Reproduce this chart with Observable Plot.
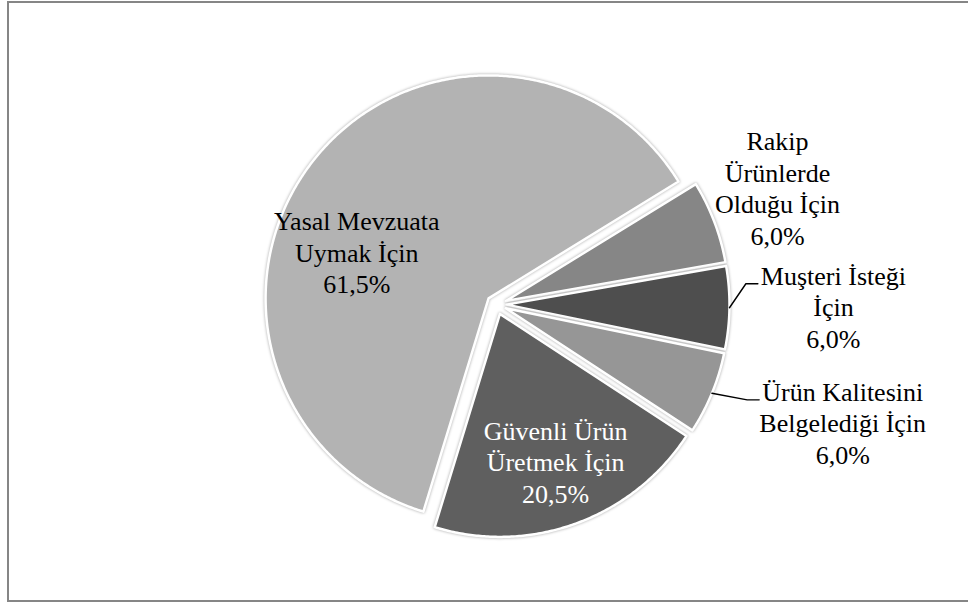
<!DOCTYPE html>
<html><head><meta charset="utf-8">
<script src="https://cdn.jsdelivr.net/npm/d3@7"></script>
<script src="https://cdn.jsdelivr.net/npm/@observablehq/plot@0.6"></script>
<style>
body{margin:0;background:#fff;}
#wrap{position:relative;width:968px;height:605px;overflow:hidden;background:#fff;}
#frame{position:absolute;left:7px;top:1px;width:1000px;height:597px;border:2px solid #868686;pointer-events:none;}
#wrap svg g.slices path{filter:drop-shadow(0 0 1.5px rgba(0,0,0,0.35));}
</style>
</head><body><div id="wrap"><div id="frame"></div></div>
<script>
// ---- data ----
const categories = ["Rakip Ürünlerde Olduğu İçin", "Muşteri İsteği İçin", "Ürün Kalitesini Belgelediği İçin", "Güvenli Ürün Üretmek İçin", "Yasal Mevzuata Uymak İçin"];
const values = [6.0, 6.0, 6.0, 20.5, 61.5];
const labelLines = [["Rakip", "Ürünlerde", "Olduğu İçin"], ["Muşteri İsteği", "İçin"], ["Ürün Kalitesini", "Belgelediği İçin"], ["Güvenli Ürün", "Üretmek İçin"], ["Yasal Mevzuata", "Uymak İçin"]];

// ---- styling / layout ----
const colors = ["#868686", "#4e4e4e", "#969696", "#5f5f5f", "#b3b3b3"];
const textColors = ["#000", "#000", "#000", "#fff", "#000"];
const W = 968, H = 605;
const CX = 496, CY = 304, R = 223;            // pie centre and radius in pixels
const EXPLODE = 10 / R;                        // slice explosion (unit radius)
const START = 58.4 * Math.PI / 180;            // first slice angle (clockwise from 12 o'clock)
// label placement: [angle shift from slice mid-angle (deg), distance from centre (unit radius)]
const labelPolar = [[-1.8, 1.365], [-0.5, 1.511], [-3.6, 1.64], [-0.8, 0.75], [-17, 0.67]];
const leaderFor = [false, true, true, false, false];
const FS = 26, LH = 31.5;
const FONT = "Liberation Serif";

const fmt = v => v.toFixed(1).replace(".", ",") + "%";

const arcs = d3.pie().sort(null).value(d => d).startAngle(START).endAngle(START + 2 * Math.PI)(values);

// slice outlines in unit coordinates (y up)
const slicePts = [];
arcs.forEach((s, i) => {
  const mid = (s.startAngle + s.endAngle) / 2;
  const ox = EXPLODE * Math.sin(mid), oy = EXPLODE * Math.cos(mid);
  slicePts.push({cat: categories[i], x: ox, y: oy});
  const n = Math.max(2, Math.ceil((s.endAngle - s.startAngle) / (Math.PI / 360)));
  for (let k = 0; k <= n; k++) {
    const a = s.startAngle + (s.endAngle - s.startAngle) * k / n;
    slicePts.push({cat: categories[i], x: ox + Math.sin(a), y: oy + Math.cos(a)});
  }
});

// labels
const ctx = document.createElement("canvas").getContext("2d");
ctx.font = `${FS}px "Liberation Serif", serif`;
const labels = arcs.map((s, i) => {
  const mid = (s.startAngle + s.endAngle) / 2 + labelPolar[i][0] * Math.PI / 180;
  const r = labelPolar[i][1];
  const lines = [...labelLines[i], fmt(values[i])];
  return {cat: categories[i], x: r * Math.sin(mid), y: r * Math.cos(mid), text: lines.join("\n"), lines, color: textColors[i]};
});

// leader lines
const leaderPts = [];
arcs.forEach((s, i) => {
  if (!leaderFor[i]) return;
  const mid = (s.startAngle + s.endAngle) / 2;
  const L = labels[i];
  const firstW = ctx.measureText(L.lines[0]).width;
  const nLines = L.lines.length;
  const endX = L.x - (firstW / 2 + 3) / R;
  const endY = L.y + (((nLines - 1) / 2) * LH - 9) / R;
  leaderPts.push({cat: categories[i], x: (1 + EXPLODE) * Math.sin(mid), y: (1 + EXPLODE) * Math.cos(mid)});
  leaderPts.push({cat: categories[i], x: endX - 12 / R, y: endY});
  leaderPts.push({cat: categories[i], x: endX, y: endY});
});

const chart = Plot.plot({
  width: W, height: H, margin: 0,
  style: {fontFamily: FONT, background: "transparent"},
  x: {domain: [-CX / R, (W - CX) / R], axis: null},
  y: {domain: [-(H - CY) / R, CY / R], axis: null},
  color: {domain: categories, range: colors},
  marks: [
    Plot.line(slicePts, {x: "x", y: "y", z: "cat", fill: "cat", stroke: "#fff", strokeWidth: 2.5, curve: "linear-closed", className: "slices"}),
    Plot.line(leaderPts, {x: "x", y: "y", z: "cat", stroke: "#000", strokeWidth: 1.4}),
    Plot.text(labels.filter(d => d.color === "#000"), {x: "x", y: "y", text: "text", fill: "#000", fontSize: FS, fontFamily: FONT, lineHeight: LH / FS}),
    Plot.text(labels.filter(d => d.color === "#fff"), {x: "x", y: "y", text: "text", fill: "#fff", fontSize: FS, fontFamily: FONT, lineHeight: LH / FS})
  ]
});
document.getElementById("wrap").insertBefore(chart, document.getElementById("frame"));
</script>
</body></html>
